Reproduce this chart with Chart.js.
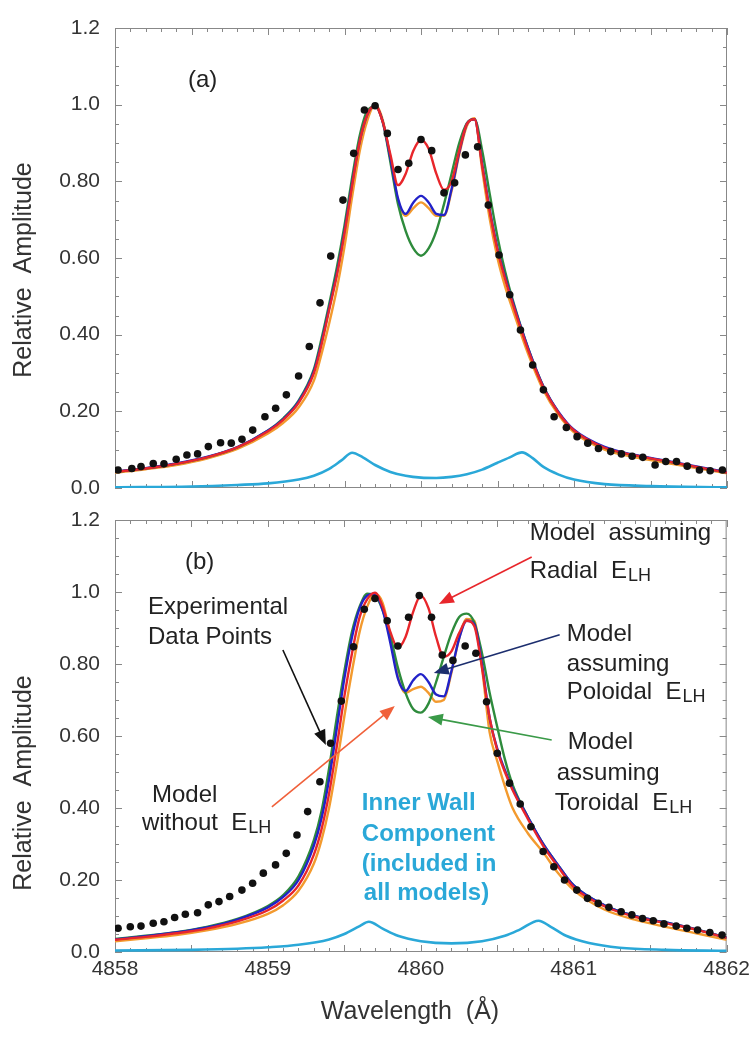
<!DOCTYPE html>
<html>
<head>
<meta charset="utf-8">
<script src="https://cdn.jsdelivr.net/npm/chart.js@4.4.1/dist/chart.umd.min.js"></script>
<style>
  html, body { margin: 0; padding: 0; background: #fff; }
  #wrap { position: relative; width: 755px; height: 1055px; }
  #wrap canvas { position: absolute; left: 0; top: 0; }
</style>
</head>
<body>
<div id="wrap">
  <canvas id="chartA" width="755" height="1055"></canvas>
  <canvas id="chartB" width="755" height="1055"></canvas>
</div>
<script>
// tick labels
var xTickValues = [4858, 4859, 4860, 4861, 4862];
var xTickLabels = ["4858", "4859", "4860", "4861", "4862"];
var yTickValues = [0, 0.2, 0.4, 0.6, 0.8, 1.0, 1.2];
var yTickLabels = ["0.0", "0.20", "0.40", "0.60", "0.80", "1.0", "1.2"];

// wavelength grid the model curves were read at
var modelWl = [4858.0, 4858.2, 4858.4, 4858.6, 4858.8, 4859.0, 4859.1, 4859.2, 4859.3, 4859.35,
  4859.4, 4859.45, 4859.5, 4859.55, 4859.6, 4859.65, 4859.7, 4859.75, 4859.8, 4859.85,
  4859.9, 4859.95, 4860.0, 4860.05, 4860.1, 4860.15, 4860.2, 4860.25, 4860.3, 4860.35,
  4860.4, 4860.45, 4860.5, 4860.55, 4860.6, 4860.7, 4860.8, 4860.9, 4861.0, 4861.2,
  4861.4, 4861.6, 4861.8, 4862.0];

// ---- panel (a) ----
var dotsWlA = [4858.02, 4858.11, 4858.17, 4858.25, 4858.32, 4858.40, 4858.47, 4858.54, 4858.61, 4858.69,
  4858.76, 4858.83, 4858.90, 4858.98, 4859.05, 4859.12, 4859.20, 4859.27, 4859.34, 4859.41,
  4859.49, 4859.56, 4859.63, 4859.70, 4859.78, 4859.85, 4859.92, 4860.00, 4860.07, 4860.15,
  4860.22, 4860.29, 4860.37, 4860.44, 4860.51, 4860.58, 4860.65, 4860.73, 4860.80, 4860.87,
  4860.95, 4861.02, 4861.09, 4861.16, 4861.24, 4861.31, 4861.38, 4861.45, 4861.53, 4861.60,
  4861.67, 4861.74, 4861.82, 4861.89, 4861.97];
var dotsA = [0.047, 0.051, 0.056, 0.064, 0.063, 0.075, 0.086, 0.089, 0.108, 0.118,
  0.117, 0.127, 0.151, 0.186, 0.208, 0.243, 0.292, 0.369, 0.483, 0.605,
  0.751, 0.873, 0.986, 0.997, 0.925, 0.831, 0.847, 0.909, 0.880, 0.770,
  0.796, 0.869, 0.890, 0.738, 0.608, 0.504, 0.412, 0.321, 0.256, 0.186,
  0.158, 0.134, 0.117, 0.103, 0.095, 0.089, 0.083, 0.080, 0.060, 0.069,
  0.069, 0.057, 0.047, 0.045, 0.047];
var radialA = [0.042, 0.051, 0.063, 0.080, 0.106, 0.148, 0.178, 0.222, 0.300, 0.375,
  0.465, 0.555, 0.665, 0.790, 0.905, 0.975, 0.998, 0.955, 0.870, 0.790,
  0.820, 0.880, 0.908, 0.885, 0.820, 0.778, 0.800, 0.880, 0.950, 0.962,
  0.840, 0.720, 0.620, 0.545, 0.480, 0.360, 0.262, 0.195, 0.150, 0.105,
  0.085, 0.070, 0.055, 0.040];
var poloidalA = [0.043, 0.052, 0.064, 0.081, 0.107, 0.150, 0.180, 0.225, 0.305, 0.380,
  0.470, 0.560, 0.670, 0.795, 0.905, 0.975, 0.998, 0.955, 0.860, 0.755,
  0.715, 0.745, 0.762, 0.745, 0.715, 0.712, 0.780, 0.875, 0.950, 0.962,
  0.845, 0.725, 0.625, 0.550, 0.485, 0.365, 0.265, 0.198, 0.152, 0.107,
  0.086, 0.071, 0.056, 0.041];
var withoutA = [0.040, 0.049, 0.060, 0.077, 0.102, 0.142, 0.170, 0.210, 0.280, 0.350,
  0.430, 0.520, 0.630, 0.760, 0.880, 0.960, 1.000, 0.960, 0.860, 0.750,
  0.710, 0.730, 0.745, 0.730, 0.710, 0.710, 0.775, 0.870, 0.945, 0.965,
  0.830, 0.700, 0.600, 0.525, 0.465, 0.350, 0.255, 0.190, 0.145, 0.100,
  0.080, 0.066, 0.052, 0.038];
var toroidalA = [0.042, 0.051, 0.063, 0.080, 0.106, 0.150, 0.182, 0.228, 0.310, 0.390,
  0.480, 0.575, 0.685, 0.810, 0.920, 0.985, 0.995, 0.955, 0.850, 0.740,
  0.670, 0.625, 0.606, 0.625, 0.670, 0.740, 0.820, 0.900, 0.952, 0.962,
  0.880, 0.765, 0.655, 0.565, 0.490, 0.365, 0.265, 0.196, 0.150, 0.105,
  0.085, 0.070, 0.055, 0.040];
var wallWlA = [4858.0, 4858.5, 4858.8, 4859.0, 4859.2, 4859.3, 4859.4, 4859.48, 4859.55, 4859.62,
  4859.7, 4859.8, 4859.9, 4860.0, 4860.1, 4860.2, 4860.3, 4860.4, 4860.5, 4860.58,
  4860.66, 4860.73, 4860.8, 4860.9, 4861.0, 4861.2, 4861.5, 4862.0];
var wallA = [0.002, 0.004, 0.008, 0.012, 0.022, 0.032, 0.050, 0.072, 0.092, 0.080,
  0.060, 0.042, 0.032, 0.027, 0.026, 0.029, 0.036, 0.048, 0.066, 0.080,
  0.093, 0.078, 0.055, 0.035, 0.022, 0.010, 0.005, 0.002];

// ---- panel (b) ----
var dotsWlB = [4858.02, 4858.10, 4858.17, 4858.25, 4858.32, 4858.39, 4858.46, 4858.54, 4858.61, 4858.68,
  4858.75, 4858.83, 4858.90, 4858.97, 4859.05, 4859.12, 4859.19, 4859.26, 4859.34, 4859.41,
  4859.48, 4859.56, 4859.63, 4859.70, 4859.78, 4859.85, 4859.92, 4859.99, 4860.07, 4860.14,
  4860.21, 4860.29, 4860.36, 4860.43, 4860.50, 4860.58, 4860.65, 4860.72, 4860.80, 4860.87,
  4860.94, 4861.02, 4861.09, 4861.16, 4861.23, 4861.31, 4861.38, 4861.45, 4861.52, 4861.59,
  4861.67, 4861.74, 4861.81, 4861.89, 4861.97];
var dotsB = [0.066, 0.070, 0.072, 0.080, 0.084, 0.096, 0.105, 0.109, 0.131, 0.140,
  0.154, 0.172, 0.191, 0.219, 0.242, 0.274, 0.325, 0.390, 0.473, 0.580,
  0.697, 0.848, 0.952, 0.982, 0.920, 0.850, 0.930, 0.990, 0.930, 0.825,
  0.810, 0.850, 0.830, 0.695, 0.552, 0.469, 0.411, 0.348, 0.279, 0.237,
  0.200, 0.172, 0.149, 0.135, 0.124, 0.112, 0.103, 0.093, 0.087, 0.078,
  0.072, 0.066, 0.061, 0.054, 0.047];
var radialB = [0.034, 0.042, 0.052, 0.065, 0.085, 0.116, 0.143, 0.185, 0.270, 0.340,
  0.440, 0.570, 0.710, 0.830, 0.930, 0.980, 0.998, 0.960, 0.890, 0.845,
  0.875, 0.945, 0.990, 0.955, 0.875, 0.820, 0.835, 0.885, 0.920, 0.905,
  0.790, 0.650, 0.560, 0.500, 0.450, 0.370, 0.295, 0.235, 0.180, 0.127,
  0.098, 0.080, 0.062, 0.039];
var poloidalB = [0.035, 0.044, 0.054, 0.068, 0.090, 0.124, 0.153, 0.200, 0.295, 0.370,
  0.480, 0.620, 0.760, 0.875, 0.955, 0.990, 0.995, 0.950, 0.860, 0.760,
  0.725, 0.755, 0.772, 0.750, 0.715, 0.710, 0.780, 0.870, 0.920, 0.910,
  0.800, 0.650, 0.565, 0.505, 0.455, 0.375, 0.300, 0.240, 0.185, 0.130,
  0.100, 0.082, 0.063, 0.040];
var withoutB = [0.030, 0.038, 0.047, 0.060, 0.078, 0.106, 0.130, 0.170, 0.245, 0.310,
  0.400, 0.520, 0.655, 0.780, 0.890, 0.960, 0.995, 0.970, 0.880, 0.765,
  0.720, 0.730, 0.737, 0.720, 0.695, 0.700, 0.775, 0.870, 0.925, 0.920,
  0.790, 0.610, 0.530, 0.460, 0.400, 0.330, 0.277, 0.218, 0.172, 0.118,
  0.090, 0.070, 0.052, 0.034];
var toroidalB = [0.036, 0.045, 0.055, 0.070, 0.092, 0.128, 0.158, 0.210, 0.310, 0.390,
  0.510, 0.650, 0.780, 0.890, 0.960, 0.995, 0.990, 0.950, 0.880, 0.790,
  0.720, 0.675, 0.665, 0.690, 0.750, 0.820, 0.885, 0.930, 0.940, 0.915,
  0.830, 0.720, 0.625, 0.535, 0.465, 0.375, 0.300, 0.240, 0.185, 0.130,
  0.100, 0.082, 0.063, 0.040];
var wallWlB = [4858.0, 4858.5, 4858.8, 4859.0, 4859.2, 4859.4, 4859.5, 4859.6, 4859.66, 4859.75,
  4859.85, 4860.0, 4860.2, 4860.4, 4860.55, 4860.65, 4860.77, 4860.85, 4860.95, 4861.1,
  4861.3, 4861.6, 4862.0];
var wallB = [0.004, 0.006, 0.009, 0.013, 0.020, 0.035, 0.050, 0.072, 0.084, 0.065,
  0.045, 0.030, 0.024, 0.030, 0.045, 0.063, 0.087, 0.070, 0.045, 0.025,
  0.012, 0.006, 0.003];

var RED = "#e8262b", BLUE = "#2222c8", ORANGE = "#f39a2e", GREEN = "#2e8b3c", CYAN = "#2aa8d8";
var FONT = '"Liberation Sans", Arial, sans-serif';

Chart.defaults.font.family = FONT;

function pts(xs, ys) {
  return xs.map(function(x, i) { return {x: x, y: ys[i]}; });
}

function curve(xs, ys, color, width) {
  return {
    data: pts(xs, ys),
    borderColor: color,
    borderWidth: width || 2.4,
    pointRadius: 0,
    fill: false,
    cubicInterpolationMode: 'monotone'
  };
}

function dots(xs, ys) {
  return {
    data: pts(xs, ys),
    showLine: false,
    pointRadius: 3.8,
    pointBackgroundColor: "#111",
    pointBorderWidth: 0
  };
}

// text with an optional subscript (E + LH)
function say(ctx, str, sub, x, y, size, color, bold) {
  ctx.font = (bold ? 'bold ' : '') + size + 'px ' + FONT;
  ctx.fillStyle = color;
  ctx.textAlign = 'left';
  ctx.textBaseline = 'middle';
  ctx.fillText(str, x, y);
  if (sub) {
    var w = ctx.measureText(str).width;
    ctx.font = (bold ? 'bold ' : '') + Math.round(size * 0.74) + 'px ' + FONT;
    ctx.fillText(sub, x + w + 1, y + size * 0.2);
  }
}

function arrow(ctx, x0, y0, x1, y1, color) {
  var ang = Math.atan2(y1 - y0, x1 - x0), L = 15, W = 6;
  ctx.save();
  ctx.strokeStyle = color;
  ctx.fillStyle = color;
  ctx.lineWidth = 1.6;
  ctx.beginPath();
  ctx.moveTo(x0, y0);
  ctx.lineTo(x1 - L * 0.8 * Math.cos(ang), y1 - L * 0.8 * Math.sin(ang));
  ctx.stroke();
  ctx.beginPath();
  ctx.moveTo(x1, y1);
  ctx.lineTo(x1 - L * Math.cos(ang) + W * Math.sin(ang), y1 - L * Math.sin(ang) - W * Math.cos(ang));
  ctx.lineTo(x1 - L * Math.cos(ang) - W * Math.sin(ang), y1 - L * Math.sin(ang) + W * Math.cos(ang));
  ctx.closePath();
  ctx.fill();
  ctx.restore();
}

// box with inward major/minor ticks on all four sides
var framePlugin = {
  id: 'frame',
  beforeDatasetsDraw: function(chart) {
    var a = chart.chartArea, ctx = chart.ctx, xs = chart.scales.x, ys = chart.scales.y;
    ctx.save();
    ctx.strokeStyle = "#888";
    ctx.lineWidth = 1;
    ctx.strokeRect(a.left + 0.5, a.top + 0.5, a.right - a.left - 1, a.bottom - a.top - 1);
    ctx.beginPath();
    for (var i = 0; i <= 40; i++) {
      var px = Math.round(xs.getPixelForValue(4858 + i * 0.1)) + 0.5;
      var len = (i % 5 === 0) ? 7 : 4;
      ctx.moveTo(px, a.bottom); ctx.lineTo(px, a.bottom - len);
      ctx.moveTo(px, a.top); ctx.lineTo(px, a.top + len);
    }
    for (var j = 0; j <= 24; j++) {
      var py = Math.round(ys.getPixelForValue(j * 0.05)) + 0.5;
      var len2 = (j % 4 === 0) ? 7 : 4;
      ctx.moveTo(a.left, py); ctx.lineTo(a.left + len2, py);
      ctx.moveTo(a.right, py); ctx.lineTo(a.right - len2, py);
    }
    ctx.stroke();
    ctx.restore();
  }
};

function yTitle(chart, cy) {
  var ctx = chart.ctx;
  ctx.save();
  ctx.translate(24, cy);
  ctx.rotate(-Math.PI / 2);
  ctx.font = '25px ' + FONT;
  ctx.fillStyle = "#333";
  ctx.textAlign = 'center';
  ctx.textBaseline = 'middle';
  ctx.fillText("Relative  Amplitude", 0, 0);
  ctx.restore();
}

var notesA = {
  id: 'notesA',
  afterDatasetsDraw: function(chart) {
    var xs = chart.scales.x, ys = chart.scales.y, ctx = chart.ctx;
    say(ctx, "(a)", null, xs.getPixelForValue(4858.477), ys.getPixelForValue(1.064), 24, "#222");
    yTitle(chart, 270);
  }
};

var notesB = {
  id: 'notesB',
  afterDatasetsDraw: function(chart) {
    var xs = chart.scales.x, ys = chart.scales.y, ctx = chart.ctx;
    function X(v) { return xs.getPixelForValue(v); }
    function Y(v) { return ys.getPixelForValue(v); }
    var ink = "#222";
    say(ctx, "(b)", null, X(4858.458), Y(1.081), 24, ink);
    say(ctx, "Experimental", null, X(4858.216), Y(0.958), 24, ink);
    say(ctx, "Data Points", null, X(4858.216), Y(0.875), 24, ink);
    say(ctx, "Model", null, X(4858.242), Y(0.436), 24, ink);
    say(ctx, "without  E", "LH", X(4858.176), Y(0.358), 24, ink);
    say(ctx, "Model  assuming", null, X(4860.712), Y(1.164), 24, ink);
    say(ctx, "Radial  E", "LH", X(4860.712), Y(1.058), 24, ink);
    say(ctx, "Model", null, X(4860.954), Y(0.881), 24, ink);
    say(ctx, "assuming", null, X(4860.954), Y(0.800), 24, ink);
    say(ctx, "Poloidal  E", "LH", X(4860.954), Y(0.722), 24, ink);
    say(ctx, "Model", null, X(4860.961), Y(0.581), 24, ink);
    say(ctx, "assuming", null, X(4860.889), Y(0.497), 24, ink);
    say(ctx, "Toroidal  E", "LH", X(4860.876), Y(0.414), 24, ink);
    say(ctx, "Inner Wall", null, X(4859.614), Y(0.414), 24, CYAN, true);
    say(ctx, "Component", null, X(4859.614), Y(0.328), 24, CYAN, true);
    say(ctx, "(included in", null, X(4859.614), Y(0.244), 24, CYAN, true);
    say(ctx, "all models)", null, X(4859.627), Y(0.164), 24, CYAN, true);

    arrow(ctx, X(4859.098), Y(0.839), X(4859.379), Y(0.575), "#111");
    arrow(ctx, X(4860.725), Y(1.097), X(4860.118), Y(0.967), RED);
    arrow(ctx, X(4860.908), Y(0.881), X(4860.085), Y(0.775), "#1c2e6e");
    arrow(ctx, X(4860.856), Y(0.589), X(4860.046), Y(0.653), "#3a9a48");
    arrow(ctx, X(4859.026), Y(0.403), X(4859.830), Y(0.683), "#f0603a");

    yTitle(chart, 783);
    ctx.save();
    ctx.font = '25px ' + FONT;
    ctx.fillStyle = "#333";
    ctx.textAlign = 'center';
    ctx.textBaseline = 'middle';
    ctx.fillText("Wavelength  (\u00C5)", 410, 1012);
    ctx.restore();
  }
};

function panelOptions(padding, showX) {
  var xScale = {
    type: 'linear', min: 4858, max: 4862, display: showX,
    grid: {display: false, drawTicks: false},
    border: {display: false},
    afterBuildTicks: function(s) { s.ticks = xTickValues.map(function(v) { return {value: v}; }); },
    ticks: {
      font: {size: 21}, color: "#333", padding: 5, maxRotation: 0, autoSkip: false,
      callback: function(v, i) { return xTickLabels[i]; }
    }
  };
  if (showX) {
    xScale.afterFit = function(s) { s.height = 103; };
  }
  return {
    responsive: false,
    animation: false,
    devicePixelRatio: 1,
    events: [],
    layout: {padding: padding},
    plugins: {legend: {display: false}, tooltip: {enabled: false}},
    scales: {
      x: xScale,
      y: {
        type: 'linear', min: 0, max: 1.2,
        grid: {display: false, drawTicks: false},
        border: {display: false},
        afterBuildTicks: function(s) { s.ticks = yTickValues.map(function(v) { return {value: v}; }); },
        afterFit: function(s) { s.width = 115; },
        ticks: {
          font: {size: 21}, color: "#333", padding: 15,
          callback: function(v, i) { return yTickLabels[i]; }
        }
      }
    }
  };
}

var chartA = new Chart(document.getElementById('chartA'), {
  type: 'line',
  data: {
    datasets: [
      dots(dotsWlA, dotsA),
      curve(wallWlA, wallA, CYAN, 2.6),
      curve(modelWl, radialA, RED),
      curve(modelWl, poloidalA, BLUE),
      curve(modelWl, toroidalA, GREEN),
      curve(modelWl, withoutA, ORANGE)
    ]
  },
  options: panelOptions({top: 28, right: 28, bottom: 567, left: 0}, false),
  plugins: [framePlugin, notesA]
});

var chartB = new Chart(document.getElementById('chartB'), {
  type: 'line',
  data: {
    datasets: [
      dots(dotsWlB, dotsB),
      curve(wallWlB, wallB, CYAN, 2.6),
      curve(modelWl, radialB, RED),
      curve(modelWl, poloidalB, BLUE),
      curve(modelWl, toroidalB, GREEN),
      curve(modelWl, withoutB, ORANGE)
    ]
  },
  options: panelOptions({top: 520, right: 28, bottom: 0, left: 0}, true),
  plugins: [framePlugin, notesB]
});
</script>
</body>
</html>
